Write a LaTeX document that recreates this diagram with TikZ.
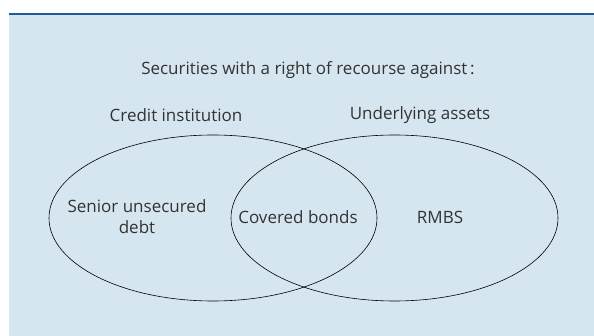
\documentclass[tikz,border=0pt]{standalone}
\usepackage{fontspec}
\setmainfont{Open Sans}

\definecolor{panelblue}{HTML}{D5E6F0}
\definecolor{rulerblue}{HTML}{1F5C99}
\definecolor{textgrey}{HTML}{333333}

\begin{document}
\begin{tikzpicture}[x=1pt,y=-1pt,
        every node/.style={text=textgrey,font=\fontsize{17}{21}\selectfont},
        set/.style={draw=black,line width=0.6pt}]
        \useasboundingbox (0,0) rectangle (594,336);
        \fill[panelblue] (9,14) rectangle (594,336);
        \draw[rulerblue,line width=1.5pt] (9,14) -- (594,14);

        \node (title) at (308,70) {Securities with a right of recourse against\,:};
        \node (credit) at (176,115) {Credit institution};
        \node (assets) at (420,115) {Underlying assets};

        \draw[set] (213,218) ellipse [x radius=164, y radius=83];
        \draw[set] (394.5,218) ellipse [x radius=163.5, y radius=83];

        \node[align=center] (senior) at (137,217) {Senior unsecured\\debt};
        \node (covered) at (298,217) {Covered bonds};
        \node (rmbs) at (440,217) {RMBS};
    \end{tikzpicture}
\end{document}
